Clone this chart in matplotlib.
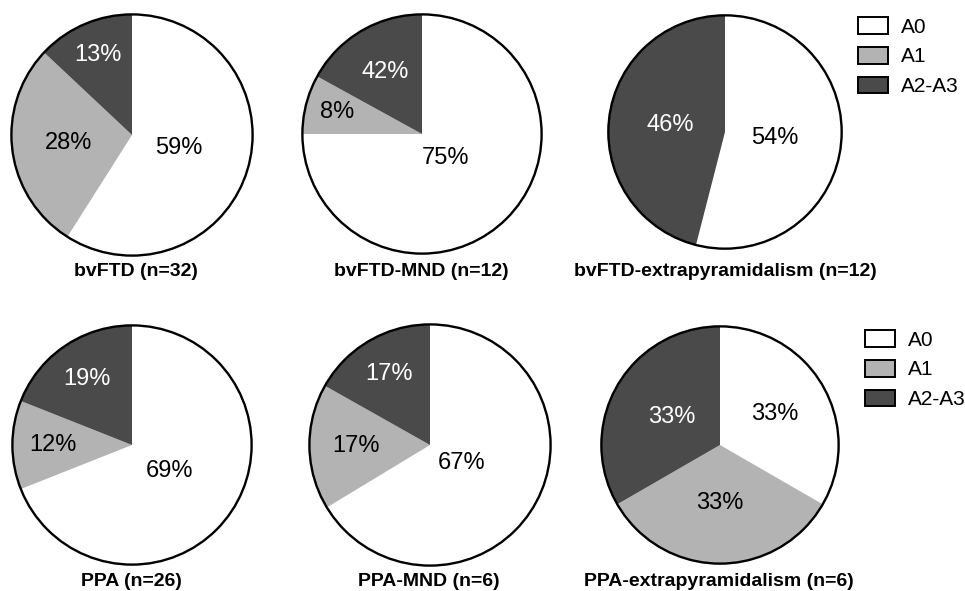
import matplotlib.pyplot as plt
import numpy as np
from matplotlib.patches import Circle, Patch

plt.rcParams["font.family"] = ["Liberation Sans", "DejaVu Sans"]

CATEGORIES = ["A0", "A1", "A2-A3"]
COLORS = ["#ffffff", "#b3b3b3", "#4a4a4a"]
TEXT_COLORS = ["black", "black", "white"]

TITLES = [
    "bvFTD (n=32)",
    "bvFTD-MND (n=12)",
    "bvFTD-extrapyramidalism (n=12)",
    "PPA (n=26)",
    "PPA-MND (n=6)",
    "PPA-extrapyramidalism (n=6)",
]

# slice sizes as drawn (percent), order A0, A1, A2-A3
BVFTD = [59, 28, 13]
BVFTD_MND = [75, 8, 17]
BVFTD_EXTRA = [54, 0, 46]
PPA = [69, 12, 19]
PPA_MND = [67, 17, 17]
PPA_EXTRA = [33.3, 33.3, 33.3]

# printed labels (as in the original figure)
LABELS = [
    ["59%", "28%", "13%"],
    ["75%", "8%", "42%"],
    ["54%", "", "46%"],
    ["69%", "12%", "19%"],
    ["67%", "17%", "17%"],
    ["33%", "33%", "33%"],
]

VALUES = [BVFTD, BVFTD_MND, BVFTD_EXTRA, PPA, PPA_MND, PPA_EXTRA]

# layout in pixels: centre x, centre y, radius
W, H = 965, 591
PIE_POS = [
    (132, 135, 123),
    (422, 134, 122),
    (725, 132, 119),
    (132, 445, 122),
    (430, 445, 123),
    (720, 445, 121),
]
TITLE_POS = [(136, 271), (421, 271), (725, 271), (131, 582), (429, 582), (719, 582)]
LABEL_DIST = [
    [0.40, 0.53, 0.72],
    [0.28, 0.73, 0.60],
    [0.43, 0.5, 0.47],
    [0.38, 0.66, 0.67],
    [0.30, 0.61, 0.68],
    [0.53, 0.49, 0.47],
]

fig = plt.figure(figsize=(W / 100, H / 100), dpi=100)

for i, vals in enumerate(VALUES):
    cx, cy, r = PIE_POS[i]
    ax = fig.add_axes([(cx - r) / W, 1 - (cy + r) / H, 2 * r / W, 2 * r / H])
    wedges, _ = ax.pie(
        vals,
        colors=COLORS,
        startangle=90,
        counterclock=False,
        radius=1,
        wedgeprops={"linewidth": 0, "edgecolor": "none"},
    )
    ax.add_patch(Circle((0, 0), 1, fill=False, edgecolor="black", linewidth=1.7))
    for j, w in enumerate(wedges):
        if not LABELS[i][j]:
            continue
        ang = np.deg2rad((w.theta1 + w.theta2) / 2)
        d = LABEL_DIST[i][j]
        ax.text(
            d * np.cos(ang),
            d * np.sin(ang),
            LABELS[i][j],
            ha="center",
            va="center",
            fontsize=17,
            color=TEXT_COLORS[j],
        )
    ax.set_xlim(-1.02, 1.02)
    ax.set_ylim(-1.02, 1.02)
    ax.set_aspect("equal")
    ax.axis("off")

    tx, ty = TITLE_POS[i]
    fig.text(tx / W, 1 - ty / H, TITLES[i], ha="center", va="center",
             fontsize=14, fontweight="bold")

handles = [Patch(facecolor=c, edgecolor="black", linewidth=1.4) for c in COLORS]
for lx, ly in [(858, 17), (865, 330)]:
    fig.legend(
        handles,
        CATEGORIES,
        loc="upper left",
        bbox_to_anchor=(lx / W, 1 - ly / H),
        frameon=False,
        fontsize=15,
        handlelength=1.45,
        handleheight=0.85,
        handletextpad=0.6,
        labelspacing=0.5,
        borderpad=0,
        borderaxespad=0,
    )

fig.savefig("out.png", dpi=100, facecolor="white")
